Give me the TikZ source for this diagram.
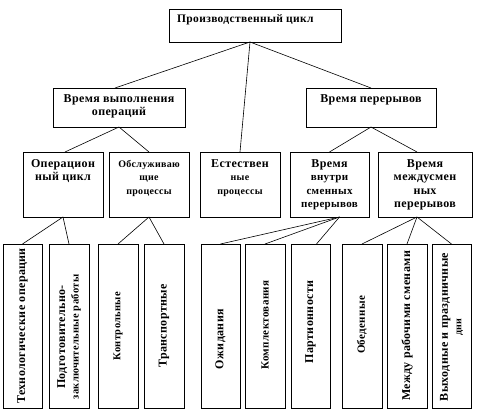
\documentclass[tikz,border=0pt]{standalone}
\usepackage{fontspec}
\setmainfont{Liberation Serif}[LetterSpace=3]
\newcommand\szA{\fontsize{12}{13.5}\selectfont}
\newcommand\szB{\fontsize{10}{13.5}\selectfont}
\newcommand\szC{\fontsize{11}{13.5}\selectfont}
\newcommand\szD{\fontsize{11}{13.5}\selectfont}
\newcommand\szF{\fontsize{10.5}{13.5}\selectfont}
\newcommand\szT{\fontsize{11.5}{13.5}\selectfont}
\begin{document}
\begin{tikzpicture}[x=1pt,y=-1pt,
  box/.style={draw,line width=0.8pt,inner sep=0pt,outer sep=0pt},
  lbl/.style={inner sep=0pt,align=center,font=\bfseries\szA},
  vlbl/.style={inner sep=0pt,align=center,rotate=90,font=\bfseries\szA},
  conn/.style={line width=0.6pt}]
\useasboundingbox (0,0) rectangle (477,411);
% boxes
\node[box,minimum width=172pt,minimum height=33pt] (top) at (255,25.5) {};
\node[box,minimum width=132pt,minimum height=39pt] (la) at (119,107.5) {};
\node[box,minimum width=130pt,minimum height=39pt] (lb) at (371,107.5) {};
\node[box,minimum width=80pt,minimum height=65pt] (A) at (63,184.5) {};
\node[box,minimum width=80pt,minimum height=65pt] (B) at (149,184.5) {};
\node[box,minimum width=80pt,minimum height=65pt] (C) at (240,184.5) {};
\node[box,minimum width=79pt,minimum height=65pt] (D) at (329.5,184.5) {};
\node[box,minimum width=94pt,minimum height=65pt] (E) at (425,184.5) {};
\foreach \n/\x/\w in {b1/22.5/39,b2/69/40,b3/118/40,b4/164/40,b5/220.5/39,b6/265/40,b7/310.5/39,b8/362/40,b9/407/40,b10/451.5/39}
  \node[box,minimum width=\w pt,minimum height=164pt] (\n) at (\x,326) {};
% labels
\node[lbl,font=\bfseries\szT,anchor=base west] (tl) at (177,23) {Производственный цикл};
\node[lbl,anchor=north] (lat) at (119,94) {Время выполнения\\операций};
\node[lbl,anchor=north] (lbt) at (371,94) {Время перерывов};
\node[lbl,anchor=north] (At) at (63,159) {Операцион\\ный цикл};
\node[lbl,anchor=north] (Bt) at (149,160) {\szB Обслуживаю\\\szB щие\\\szB процессы};
\node[lbl,anchor=north] (Ct) at (240,159) {Естествен\\\szB ные\\\szB процессы};
\node[lbl,anchor=north] (Dt) at (329.5,159) {Время\\\szD внутри\\\szD сменных\\\szD перерывов};
\node[lbl,anchor=north] (Et) at (425,159) {Время\\междусмен\\ных\\перерывов};
\node[vlbl] (t1) at (22.5,326) {Технологические операции};
\node[vlbl] (t2) at (69,337) {Подготовительно-\\\szF заключительные работы};
\node[vlbl,font=\bfseries\szF] (t3) at (118,326) {Контрольные};
\node[vlbl] (t4) at (164,326) {Транспортные};
\node[vlbl] (t5) at (220.5,339) {Ожидания};
\node[vlbl,font=\bfseries\szC] (t6) at (265,325) {Комплектования};
\node[vlbl] (t7) at (310.5,322) {Партионности};
\node[vlbl,font=\bfseries\szC] (t8) at (362,325) {Обеденные};
\node[vlbl] (t9) at (407,326) {Между рабочими сменами};
\node[vlbl] (t10) at (451.5,327) {Выходные и праздничные\\\szB дни};
% connectors
\draw[conn] ([xshift=-5pt]top.south) -- ([xshift=-4pt]la.north);
\draw[conn] ([xshift=-5pt]top.south) -- (lb.north);
\draw[conn] ([xshift=-5pt]top.south) -- (C.north);
\draw[conn] (la.south) -- ([xshift=2pt]A.north);
\draw[conn] (la.south) -- (B.north);
\draw[conn] (lb.south) -- (D.north);
\draw[conn] (lb.south) -- ([xshift=-8pt]E.north);
\draw[conn] (A.south) -- (b1.north);
\draw[conn] (A.south) -- (b2.north);
\draw[conn] (B.south) -- (b3.north);
\draw[conn] (B.south) -- (b4.north);
\draw[conn] ([xshift=10pt]D.south) -- (b5.north);
\draw[conn] ([xshift=10pt]D.south) -- (b6.north);
\draw[conn] ([xshift=10pt]D.south) -- ([xshift=6pt]b7.north);
\draw[conn] ([xshift=-8pt]E.south) -- (b8.north);
\draw[conn] ([xshift=-8pt]E.south) -- (b9.north);
\draw[conn] ([xshift=-8pt]E.south) -- (b10.north);
\end{tikzpicture}
\end{document}
